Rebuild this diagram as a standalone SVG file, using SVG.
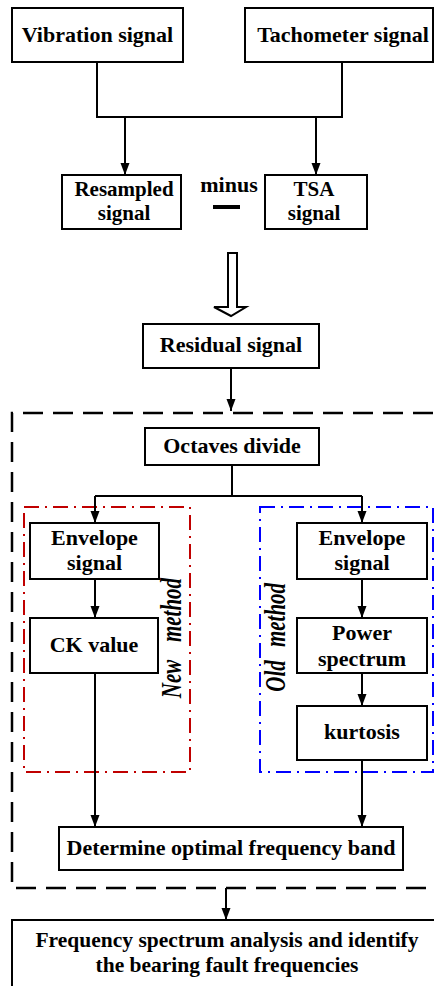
<svg xmlns="http://www.w3.org/2000/svg" width="434" height="986" viewBox="0 0 434 986">
<defs>
<marker id="ah" markerUnits="userSpaceOnUse" markerWidth="12" markerHeight="10" refX="12" refY="4.5" orient="auto">
<path d="M0,0 L12,4.5 L0,9 z" fill="#000"/>
</marker>
<style>
.box{fill:#fff;stroke:#000;stroke-width:2}
.t{font-family:"Liberation Serif","Times New Roman",serif;font-weight:bold;font-size:22px;fill:#000;text-anchor:middle}
.t2{font-size:21px}
.ti{font-family:"Liberation Serif","Times New Roman",serif;font-weight:bold;font-style:italic;font-size:21px;fill:#000;text-anchor:middle}
.ln{fill:none;stroke:#000;stroke-width:2}
.ar{fill:none;stroke:#000;stroke-width:2;marker-end:url(#ah)}
.dash{fill:none;stroke:#000;stroke-width:2.5;stroke-dasharray:20 10}
.red{fill:none;stroke:#c00000;stroke-width:2;stroke-dasharray:15 6 2 6}
.blue{fill:none;stroke:#0000ff;stroke-width:2;stroke-dasharray:15 6 2 6}
</style>
</defs>
<rect width="434" height="986" fill="#fff"/>
<g id="regions">
<path class="dash" d="M433,413 H12 V888 H433"/>
<rect class="red" x="24" y="507" width="166" height="265"/>
<rect class="blue" x="260" y="507" width="173" height="265"/>
</g>
<g id="connectors">
<path class="ln" d="M97,62 V117 H342 V62"/>
<path class="ar" d="M125,117 V175"/>
<path class="ar" d="M316,117 V175"/>
<polygon points="228,253 237,253 237,307 246,307 231,316 214,307 228,307" fill="#fff" stroke="#000" stroke-width="2"/>
<path class="ar" d="M231,368 V411"/>
<path class="ln" d="M232,465 V496 M95,496 H362"/>
<path class="ar" d="M95,496 V523"/>
<path class="ar" d="M362,496 V523"/>
<path class="ar" d="M95,579 V618"/>
<path class="ar" d="M362,579 V618"/>
<path class="ar" d="M362,673 V706"/>
<path class="ar" d="M95,673 V827"/>
<path class="ar" d="M362,760 V827"/>
<path class="ar" d="M226,888 V920"/>
</g>
<g id="vibration"><rect class="box" x="12" y="8" width="171" height="54"/><text class="t" x="97.5" y="42">Vibration signal</text></g>
<g id="tachometer"><rect class="box" x="245" y="8" width="188" height="54"/><text class="t" x="343" y="42">Tachometer signal</text></g>
<g id="resampled"><rect class="box" x="62" y="175" width="119" height="54"/><text class="t t2" x="124" y="196">Resampled</text><text class="t t2" x="124" y="220">signal</text></g>
<g id="minus"><text class="t" x="229" y="192">minus</text><rect x="213" y="205" width="27" height="4" fill="#000"/></g>
<g id="tsa"><rect class="box" x="265" y="175" width="102" height="54"/><text class="t t2" x="314" y="196">TSA</text><text class="t t2" x="314" y="220">signal</text></g>
<g id="residual"><rect class="box" x="143" y="324" width="176" height="44"/><text class="t" x="231" y="352">Residual signal</text></g>
<g id="octaves"><rect class="box" x="145" y="428" width="174" height="37"/><text class="t" x="232" y="453">Octaves divide</text></g>
<g id="envL"><rect class="box" x="30" y="523" width="129" height="56"/><text class="t" x="94.5" y="545">Envelope</text><text class="t" x="94.5" y="570">signal</text></g>
<g id="ck"><rect class="box" x="30" y="618" width="128" height="55"/><text class="t" x="94" y="652">CK value</text></g>
<g id="newm"><text class="ti" transform="translate(181,610) rotate(-90) scale(1,1.45)">method</text><text class="ti" transform="translate(181,679) rotate(-90) scale(1,1.45)">New</text></g>
<g id="envR"><rect class="box" x="297" y="523" width="130" height="56"/><text class="t" x="362" y="545">Envelope</text><text class="t" x="362" y="570">signal</text></g>
<g id="power"><rect class="box" x="297" y="618" width="130" height="55"/><text class="t" x="362" y="640">Power</text><text class="t" x="362" y="666">spectrum</text></g>
<g id="kurt"><rect class="box" x="297" y="706" width="130" height="54"/><text class="t" x="362" y="739">kurtosis</text></g>
<g id="oldm"><text class="ti" transform="translate(285,615) rotate(-90) scale(1,1.45)">method</text><text class="ti" transform="translate(285,676) rotate(-90) scale(1,1.45)">Old</text></g>
<g id="determine"><rect class="box" x="59" y="827" width="344" height="43"/><text class="t" x="231" y="855">Determine optimal frequency band</text></g>
<g id="final"><rect class="box" x="12" y="920" width="430" height="80"/><text class="t" x="227" y="947" style="font-size:21.5px">Frequency spectrum analysis and identify</text><text class="t" x="227" y="972" style="font-size:21.5px">the bearing fault frequencies</text></g>
</svg>
